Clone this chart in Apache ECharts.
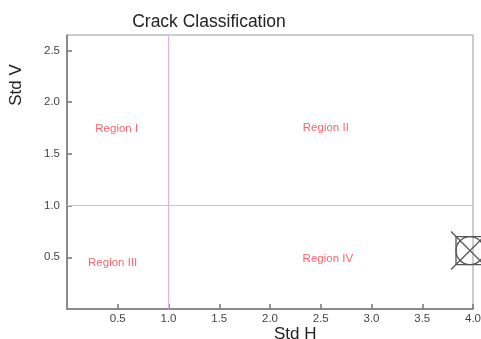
<!DOCTYPE html>
<html><head><meta charset="utf-8">
<script src="https://cdn.jsdelivr.net/npm/echarts@6/dist/echarts.min.js"></script>
<style>html,body{margin:0;padding:0;background:#fff}#c{width:481px;height:339px}</style>
</head><body><div id="c"></div>
<script>
const titleText = 'Crack Classification';
const xName = 'Std H';
const yName = 'Std V';
const xTicks = [0.5, 1.0, 1.5, 2.0, 2.5, 3.0, 3.5, 4.0];
const yTicks = [0.5, 1.0, 1.5, 2.0, 2.5];
const regionLabels = ['Region I', 'Region II', 'Region III', 'Region IV'];
const regionX = [0.49, 2.55, 0.45, 2.57];
const regionY = [1.74, 1.75, 0.45, 0.49];
const thresholdH = 1.0;
const thresholdV = 1.0;
const pointX = [4.0];
const pointY = [0.565];

const chart = echarts.init(document.getElementById('c'));
const font = 'Liberation Sans, Arial, sans-serif';
chart.setOption({
  animation: false,
  title: {text: titleText, left: 204, top: 8, textAlign: 'center',
    textStyle: {fontFamily: font, fontSize: 17.5, fontWeight: 'normal', color: '#222'}},
  grid: {left: 67, right: 8, top: 35, bottom: 30, show: true, borderColor: '#999', borderWidth: 1, backgroundColor: '#fff', outerBoundsMode: 'none', containLabel: false},
  xAxis: {type: 'value', min: 0, max: 4, interval: 0.5,
    axisLine: {lineStyle: {color: '#777', width: 1.5}},
    axisTick: {inside: true, length: 5, lineStyle: {color: '#777', width: 1.5}},
    splitLine: {show: false},
    axisLabel: {showMinLabel: false, margin: 4, color: '#444', fontFamily: font, fontSize: 11.5,
      formatter: v => xTicks.includes(v) ? v.toFixed(1) : ''}},
  yAxis: {type: 'value', min: 0, max: 2.65, interval: 0.5,
    axisLine: {show: true, lineStyle: {color: '#777', width: 1.5}},
    axisTick: {show: true, inside: true, length: 5, lineStyle: {color: '#777', width: 1.5}},
    splitLine: {show: false},
    axisLabel: {showMinLabel: false, showMaxLabel: false, margin: 7, color: '#444', fontFamily: font, fontSize: 11.5,
      formatter: v => yTicks.includes(v) ? v.toFixed(1) : ''}},
  graphic: [
    {type: 'text', left: 296 - 22, top: 326, style: {text: xName, font: '17px ' + font, fill: '#222'}},
    {type: 'text', x: 16, y: 85, rotation: Math.PI / 2, style: {text: yName, font: '17px ' + font, fill: '#222', textAlign: 'center', textVerticalAlign: 'middle'}}
  ],
  series: [
    {type: 'scatter', symbolSize: 0, silent: true,
      data: regionLabels.map((t, i) => ({value: [regionX[i], regionY[i]], name: t})),
      label: {show: true, position: 'inside', formatter: p => p.name, color: '#f0404e', fontFamily: font, fontSize: 11.5},
      markLine: {silent: true, symbol: 'none', label: {show: false},
        lineStyle: {color: '#ebb0dc', width: 1, type: 'solid', opacity: 1},
        emphasis: {disabled: true},
        data: [{xAxis: thresholdH}, {yAxis: thresholdV}]}},
    {type: 'custom', clip: false, silent: true,
      data: pointX.map((x, i) => [x, pointY[i]]),
      renderItem: (params, api) => {
        const c = api.coord([api.value(0), api.value(1)]);
        const h = 14, e = 19;
        const st = {stroke: '#555', lineWidth: 1.3, fill: 'none'};
        return {type: 'group', children: [
          {type: 'rect', shape: {x: c[0] - h - 3, y: c[1] - h, width: 2 * h, height: 2 * h}, style: st},
          {type: 'circle', shape: {cx: c[0] - 3, cy: c[1], r: h}, style: st},
          {type: 'line', shape: {x1: c[0] - 3 - e, y1: c[1] - e, x2: c[0] - 3 + e, y2: c[1] + e}, style: st},
          {type: 'line', shape: {x1: c[0] - 3 - e, y1: c[1] + e, x2: c[0] - 3 + e, y2: c[1] - e}, style: st}
        ]};
      }}
  ]
});
</script></body></html>
